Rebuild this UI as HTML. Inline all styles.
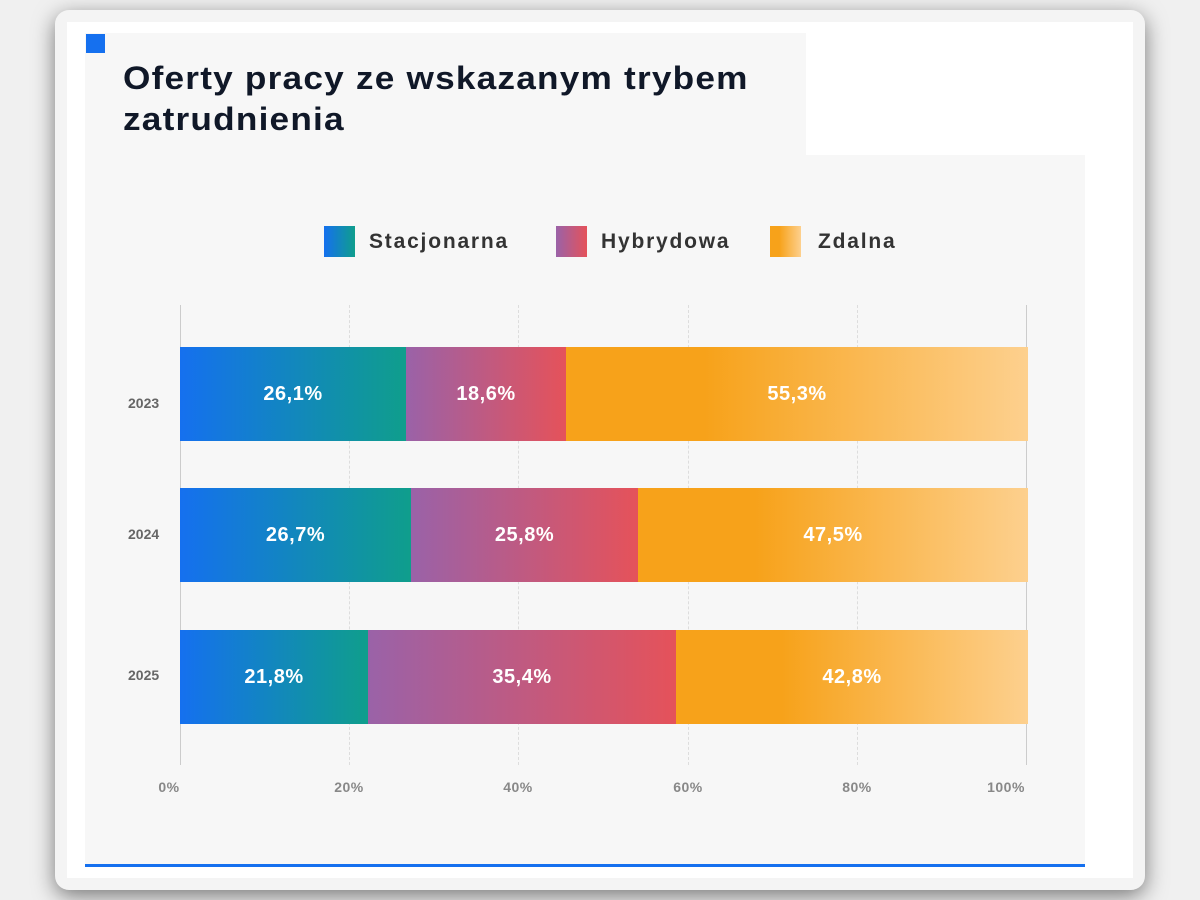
<!DOCTYPE html>
<html><head><meta charset="utf-8"><style>
body{margin:0;width:1200px;height:900px;background:#f0f0f0;font-family:"Liberation Sans",sans-serif;position:relative;overflow:hidden}
.card{position:absolute;left:55px;top:10px;width:1090px;height:880px;background:#f4f4f4;border-radius:14px;box-shadow:0 6px 22px rgba(0,0,0,.5)}
.inner{position:absolute;left:67px;top:22px;width:1066px;height:856px;background:#fff}
.panel{position:absolute;left:85px;top:155px;width:1000px;height:712px;background:#f7f7f7}
.tbox{position:absolute;left:85px;top:33px;width:721px;height:123px;background:#f7f7f7}
.sq{position:absolute;left:86px;top:34px;width:19px;height:19px;background:#1570ef}
.title{position:absolute;left:123px;top:58px;font-size:32px;font-weight:bold;color:#101828;line-height:41px;letter-spacing:1.1px;transform:scaleX(1.1);transform-origin:left top;white-space:nowrap}
.blue{position:absolute;left:85px;top:864px;width:1000px;height:3px;background:#1570ef}
.leg{position:absolute;top:226px;font-size:21px;font-weight:bold;color:#333;line-height:31px;letter-spacing:1.8px;white-space:nowrap}
.leg i{display:inline-block;width:31px;height:31px;vertical-align:top;margin-right:14px}
.g{position:absolute;top:305px;height:460px;border-left:1px dashed #ddd}
.bar{position:absolute;height:94px;color:#fff;font-weight:bold;font-size:20px;line-height:94px;text-align:center;letter-spacing:.5px}
.s{background:linear-gradient(90deg,#1570ef,#0f9e8c)}
.h{background:linear-gradient(90deg,#9a62a8,#e5525a)}
.z{background:linear-gradient(90deg,#f7a21a 30%,#fdd08e)}
.yl{position:absolute;left:128px;font-size:14px;color:#666;font-weight:bold}
.xl{position:absolute;top:779px;font-size:14px;color:#888;font-weight:bold;width:60px;text-align:center;letter-spacing:.5px}
</style></head><body>
<div class="card"></div><div class="inner"></div><div class="panel"></div><div class="tbox"></div><div class="sq"></div>
<div class="title">Oferty pracy ze wskazanym trybem<br>zatrudnienia</div>
<div class="leg" style="left:324px"><i class="s"></i>Stacjonarna</div>
<div class="leg" style="left:556px"><i class="h"></i>Hybrydowa</div>
<div class="leg" style="left:770px"><i class="z" style="margin-right:17px"></i>Zdalna</div>
<div class="g" style="left:180px;border-left:1px solid #ccc"></div>
<div class="g" style="left:349px"></div><div class="g" style="left:518px"></div><div class="g" style="left:688px"></div><div class="g" style="left:857px"></div><div class="g" style="left:1026px;border-left:1px solid #ccc"></div>
<div class="bar s" style="left:180px;top:347px;width:226px">26,1%</div>
<div class="bar h" style="left:406px;top:347px;width:160px">18,6%</div>
<div class="bar z" style="left:566px;top:347px;width:462px">55,3%</div>
<div class="bar s" style="left:180px;top:488px;width:231px">26,7%</div>
<div class="bar h" style="left:411px;top:488px;width:227px">25,8%</div>
<div class="bar z" style="left:638px;top:488px;width:390px">47,5%</div>
<div class="bar s" style="left:180px;top:630px;width:188px">21,8%</div>
<div class="bar h" style="left:368px;top:630px;width:308px">35,4%</div>
<div class="bar z" style="left:676px;top:630px;width:352px">42,8%</div>
<div class="yl" style="top:395px">2023</div><div class="yl" style="top:526px">2024</div><div class="yl" style="top:667px">2025</div>
<div class="xl" style="left:139px">0%</div><div class="xl" style="left:319px">20%</div><div class="xl" style="left:488px">40%</div><div class="xl" style="left:658px">60%</div><div class="xl" style="left:827px">80%</div><div class="xl" style="left:976px">100%</div>
<div class="blue"></div>
</body></html>
